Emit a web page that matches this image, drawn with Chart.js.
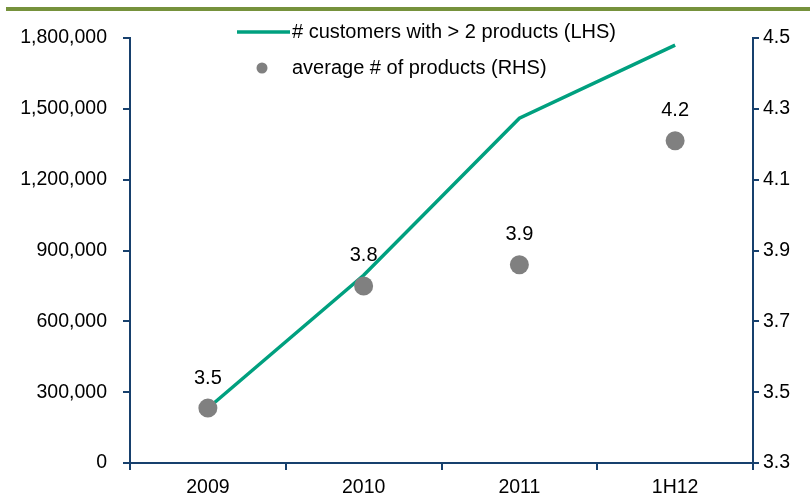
<!DOCTYPE html>
<html lang="en">
<head>
    <meta charset="UTF-8">
    <title>Customers and products</title>
    <script src="https://cdn.jsdelivr.net/npm/chart.js"></script>
    <style>
        html, body { margin: 0; padding: 0; background: #fff; }
        .wrap { position: relative; width: 810px; height: 498px; }
        .rule { position: absolute; left: 6px; right: 0; top: 7px; height: 4px; background: #76923C; }
        canvas { position: absolute; left: 0; top: 0; }
    </style>
</head>
<body>
    <div class="wrap">
        <canvas id="chart" width="810" height="498"></canvas>
        <div class="rule"></div>
    </div>
    <script>
        const periods = ['2009', '2010', '2011', '1H12'];
        const customers = [232000, 795000, 1460000, 1770000];
        const avgProducts = [3.455, 3.80, 3.86, 4.21];

        const navy = '#17406D';
        const teal = '#00A07F';
        const grey = '#808080';
        const family = 'Liberation Sans, Arial, sans-serif';
        const tickFont = { family: family, size: 19.5 };
        const textSize = 20;

        // dot value labels + hand-placed legend inside the plot
        const extras = {
            id: 'extras',
            afterDatasetsDraw(chart) {
                const ctx = chart.ctx;
                const meta = chart.getDatasetMeta(1);
                ctx.save();
                ctx.font = textSize + 'px ' + family;
                ctx.fillStyle = '#000';
                ctx.textAlign = 'center';
                ctx.textBaseline = 'middle';
                meta.data.forEach((pt, i) => {
                    ctx.fillText(avgProducts[i].toFixed(1), pt.x, pt.y - 30);
                });

                ctx.textAlign = 'left';
                ctx.strokeStyle = teal;
                ctx.lineWidth = 3.5;
                ctx.beginPath();
                ctx.moveTo(237, 32);
                ctx.lineTo(290, 32);
                ctx.stroke();
                ctx.fillText(chart.data.datasets[0].label, 292, 32);

                ctx.fillStyle = grey;
                ctx.beginPath();
                ctx.arc(262, 68, 5.5, 0, Math.PI * 2);
                ctx.fill();
                ctx.fillStyle = '#000';
                ctx.fillText(chart.data.datasets[1].label, 292, 68);
                ctx.restore();
            }
        };

        new Chart(document.getElementById('chart'), {
            type: 'line',
            data: {
                labels: periods,
                datasets: [
                    {
                        label: '# customers with > 2 products (LHS)',
                        data: customers,
                        yAxisID: 'yL',
                        borderColor: teal,
                        borderWidth: 3.5,
                        pointRadius: 0,
                        tension: 0,
                        order: 2
                    },
                    {
                        label: 'average # of products (RHS)',
                        data: avgProducts,
                        yAxisID: 'yR',
                        showLine: false,
                        pointRadius: 9.5,
                        pointBackgroundColor: grey,
                        pointBorderWidth: 0,
                        order: 1
                    }
                ]
            },
            options: {
                responsive: false,
                animation: false,
                layout: { padding: { top: 38, right: 0, left: 0, bottom: 0 } },
                plugins: { legend: { display: false }, tooltip: { enabled: false } },
                scales: {
                    x: {
                        offset: true,
                        grid: { offset: true, drawOnChartArea: false, color: navy, lineWidth: 2, tickLength: 7 },
                        border: { color: navy, width: 2 },
                        ticks: { color: '#000', font: tickFont, padding: 6, maxRotation: 0 },
                        afterFit(s) { s.height = 35; }
                    },
                    yL: {
                        position: 'left',
                        min: 0,
                        max: 1800000,
                        grid: { drawOnChartArea: false, color: navy, lineWidth: 2, tickLength: 7 },
                        border: { color: navy, width: 2 },
                        ticks: {
                            stepSize: 300000,
                            color: '#000',
                            font: tickFont,
                            padding: 16,
                            callback: v => v.toLocaleString('en-US')
                        },
                        afterFit(s) { s.width = 130; }
                    },
                    yR: {
                        position: 'right',
                        min: 3.3,
                        max: 4.5,
                        grid: { drawOnChartArea: false, color: navy, lineWidth: 2, tickLength: 6 },
                        border: { color: navy, width: 2 },
                        ticks: {
                            stepSize: 0.2,
                            color: '#000',
                            font: tickFont,
                            padding: 4,
                            callback: v => v.toFixed(1)
                        },
                        afterFit(s) { s.width = 57; }
                    }
                }
            },
            plugins: [extras]
        });
    </script>
</body>
</html>
